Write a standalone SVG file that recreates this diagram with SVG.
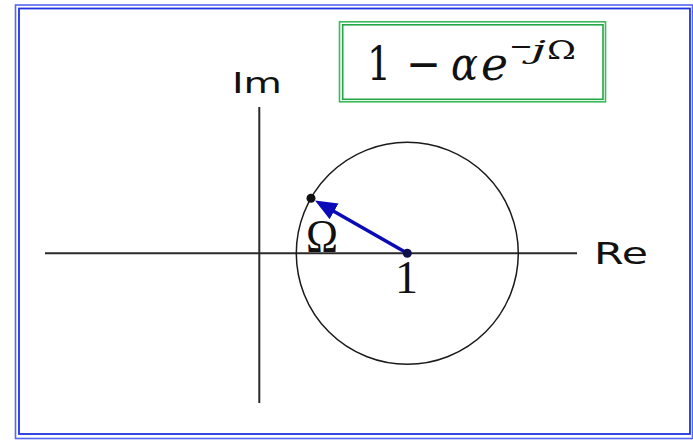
<svg xmlns="http://www.w3.org/2000/svg" width="693" height="441" viewBox="0 0 693 441">
<defs>
<style>
.frame1{fill:none;stroke:#5566f0;stroke-width:1.6}
.frame2{fill:none;stroke:#1f33e0;stroke-width:1.8}
.gbox1{fill:none;stroke:#3cb95a;stroke-width:1.6}
.gbox2{fill:none;stroke:#23a643;stroke-width:1.6}
.axis{stroke:#2a2a2a;stroke-width:2;fill:none}
.circ{stroke:#1a1a1a;stroke-width:1.5;fill:none}
.vec{stroke:#0a0ab8;stroke-width:3.5;fill:none}
.sans{font-family:"DejaVu Sans","Liberation Sans",sans-serif;fill:#111}
.serif{font-family:"Liberation Serif","Times New Roman",serif;fill:#111}
.math{font-family:"DejaVu Serif","Liberation Serif",serif;fill:#111}
</style>
<marker id="ah" markerUnits="userSpaceOnUse" markerWidth="24" markerHeight="20" refX="4" refY="9" orient="auto">
<path d="M0,0 L22,9 L0,18 z" fill="#0a0ab8"/>
</marker>
</defs>
<rect width="693" height="441" fill="#ffffff"/>
<g id="frame">
<rect class="frame1" x="15.5" y="5" width="677" height="433.5"/>
<rect class="frame2" x="19" y="8.5" width="671" height="425.5"/>
</g>
<g id="formula">
<rect class="gbox1" x="339.5" y="21.8" width="266" height="80"/>
<rect class="gbox2" x="342.7" y="24.8" width="260.3" height="74.5"/>
<text class="math" y="79.5" font-size="47">
<tspan x="367" textLength="24" lengthAdjust="spacingAndGlyphs">1</tspan>
<tspan x="406" textLength="35" lengthAdjust="spacingAndGlyphs">−</tspan>
<tspan x="451" font-style="italic" textLength="27" lengthAdjust="spacingAndGlyphs">α</tspan>
<tspan x="481" font-style="italic" textLength="27" lengthAdjust="spacingAndGlyphs">e</tspan>
</text>
<text class="math" y="59" font-size="26">
<tspan x="509" dy="-4" textLength="24" lengthAdjust="spacingAndGlyphs">−</tspan>
<tspan x="531" dy="4" font-style="italic" textLength="15" lengthAdjust="spacingAndGlyphs">j</tspan>
<tspan x="547" textLength="29" lengthAdjust="spacingAndGlyphs">Ω</tspan>
</text>
</g>
<g id="connectors">
<line class="axis" x1="45" y1="253.3" x2="577" y2="253.3"/>
<line class="axis" x1="259.3" y1="107" x2="259.3" y2="403"/>
<circle class="circ" cx="407.3" cy="253.3" r="111"/>
<line class="vec" x1="407.3" y1="253.3" x2="330.6" y2="209.4" marker-end="url(#ah)"/>
</g>
<g id="label-im"><text class="sans" x="232" y="93" font-size="29" textLength="50" lengthAdjust="spacingAndGlyphs">Im</text></g>
<g id="label-re"><text class="sans" x="594" y="263.5" font-size="30" textLength="54" lengthAdjust="spacingAndGlyphs">Re</text></g>
<g id="point-z"><circle cx="311" cy="198.3" r="4.5" fill="#111"/></g>
<g id="point-one"><circle cx="407.3" cy="253.3" r="4.5" fill="#10104a"/></g>
<g id="label-omega"><text class="serif" x="306" y="252" font-size="46" textLength="32" lengthAdjust="spacingAndGlyphs">Ω</text></g>
<g id="label-one"><text class="serif" x="395" y="293" font-size="46" textLength="23" lengthAdjust="spacingAndGlyphs">1</text></g>
</svg>
